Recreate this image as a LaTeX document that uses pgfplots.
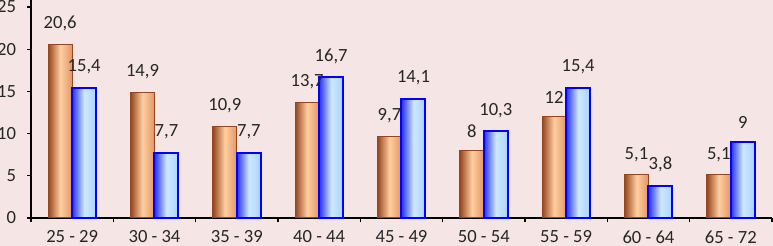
\documentclass[border=0pt]{standalone}
\usepackage{pgfplots}
\pgfplotsset{compat=1.18}
\usepackage{fontspec}
\setmainfont{Carlito}
\definecolor{bg}{RGB}{246,229,229}
\definecolor{brdark}{RGB}{150,70,30}
\definecolor{brlight}{RGB}{255,206,160}
\definecolor{brright}{RGB}{225,150,100}
\definecolor{bldark}{RGB}{40,50,240}
\definecolor{bllight}{RGB}{205,232,255}
\definecolor{blright}{RGB}{170,210,255}
\pgfplotsset{
  orbar/.style={bar shift=-6pt, draw=brdark, line width=0.5pt, left color=brdark, right color=brright, middle color=brlight},
  blbar/.style={bar shift=6pt, draw=blue, line width=1pt, left color=bldark, right color=blright, middle color=bllight},
}
\begin{document}
\begin{tikzpicture}
\fill[bg] (-15.5pt,-14pt) rectangle (371pt,109pt);
\begin{axis}[
  at={(0,0)}, anchor=south west,
  scale only axis, width=370.5pt, height=109pt,
  xmin=-0.5, xmax=8.5, ymin=0, ymax=25.83,
  axis lines*=left,
  axis line style={black, line width=0.8pt},
  ytick={0,5,10,15,20,25},
  xtick={0,...,8},
  xticklabels={25 - 29,30 - 34,35 - 39,40 - 44,45 - 49,50 - 54,55 - 59,60 - 64,65 - 72},
  major x tick style={draw=none},
  minor xtick={-0.5,0.5,...,8.5},
  minor tick length=2pt,
  major tick length=2pt,
  tick align=outside,
  tick style={black, line width=0.6pt},
  /pgf/number format/assume math mode=true,
  /pgf/number format/use comma,
  ticklabel style={font=\fontsize{9.3}{11}\selectfont, text=black!85},
  xticklabel style={yshift=-0.8pt},
  yticklabel style={xshift=-2pt},
  ybar, bar width=12pt,
  nodes near coords,
  every node near coord/.append style={font=\fontsize{9.3}{11}\selectfont, text=black!85, yshift=3pt},
  clip=false,
]
% first series (brown)
\addplot[orbar] coordinates {(0,20.6)};
\addplot[orbar] coordinates {(1,14.9)};
\addplot[orbar] coordinates {(2,10.9)};
\addplot[orbar] coordinates {(3,13.7)};
\addplot[orbar] coordinates {(4,9.7)};
\addplot[orbar] coordinates {(5,8)};
\addplot[orbar] coordinates {(6,12)};
\addplot[orbar] coordinates {(7,5.1)};
\addplot[orbar] coordinates {(8,5.1)};
% second series (blue)
\addplot[blbar] coordinates {(0,15.4)};
\addplot[blbar] coordinates {(1,7.7)};
\addplot[blbar] coordinates {(2,7.7)};
\addplot[blbar] coordinates {(3,16.7)};
\addplot[blbar] coordinates {(4,14.1)};
\addplot[blbar] coordinates {(5,10.3)};
\addplot[blbar] coordinates {(6,15.4)};
\addplot[blbar] coordinates {(7,3.8)};
\addplot[blbar] coordinates {(8,9)};
\end{axis}
\pgfresetboundingbox
\path[use as bounding box] (-15.5pt,-14pt) rectangle (371pt,109pt);
\end{tikzpicture}
\end{document}
